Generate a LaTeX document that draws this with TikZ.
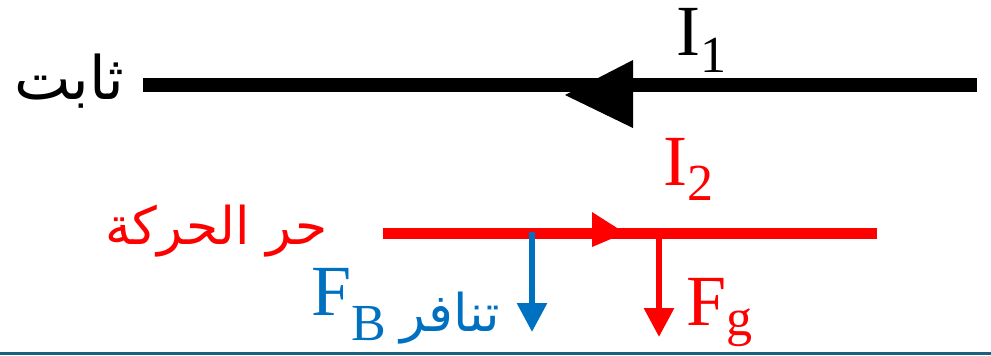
\documentclass[tikz,border=0pt]{standalone}
\usepackage{fontspec}
\setmainfont{Liberation Serif}
\newfontfamily\arabicfont[Script=Arabic]{DejaVu Sans}
\TeXXeTstate=1
\usetikzlibrary{positioning,arrows.meta}
\definecolor{wirered}{HTML}{FF0000}
\definecolor{forceblue}{HTML}{0070C0}
\definecolor{rulecol}{HTML}{1A6180}
\newcommand{\lowsub}[2]{\raisebox{-#1}{\fontsize{26}{26}\selectfont #2}}

\begin{document}
\begin{tikzpicture}[x=0.5pt,y=-0.5pt,
  lbl/.style={inner sep=0pt, font=\fontsize{36}{36}\selectfont},
  arlbl/.style={inner sep=0pt, font=\arabicfont\fontsize{26}{30}\selectfont},
  wire/.style={line width=7pt},
  force/.style={line width=3pt, -{Triangle[width=14.5pt,length=14.5pt]}}]
\useasboundingbox (0,0) rectangle (991,355);
% fixed wire, current I1 to the left
\coordinate (w1a) at (143,85);
\coordinate (w1b) at (977,85);
\draw[wire] (w1a) -- (w1b);
\fill (565,95) -- (633,60) -- (633,128) -- cycle;
\node[lbl, anchor=base west] (i1) at (676,55) {I\lowsub{8.5pt}{1}};
\node[arlbl, font=\arabicfont\fontsize{30}{34}\selectfont, anchor=east] (fixed) at (125,81) {\beginR ثابت\endR};
% free wire, current I2 to the right
\coordinate (w2a) at (383,233);
\coordinate (w2b) at (877,233);
\draw[wire, wirered, line width=5.5pt] (w2a) -- (w2b);
\fill[wirered] (625,233) -- (592,212) -- (592,247) -- cycle;
\node[lbl, text=wirered, anchor=base west] (i2) at (663,185) {I\lowsub{7.5pt}{2}};
\node[arlbl, text=wirered, anchor=east] (free) at (328,231) {\beginR حر الحركة\endR};
% forces on the free wire
\coordinate (fb0) at (532,232);
\coordinate (fb1) at (532,332);
\draw[force, forceblue] (fb0) -- (fb1);
\node[lbl, text=forceblue, anchor=base west] (fb) at (311,315) {F\lowsub{12.5pt}{B}};
\node[arlbl, text=forceblue, anchor=east] (repel) at (500,318) {\beginR تنافر\endR};
\coordinate (fg0) at (659,238);
\coordinate (fg1) at (659,337);
\draw[force, wirered] (fg0) -- (fg1);
\node[lbl, text=wirered, anchor=base west] (fg) at (686,325) {F\lowsub{5pt}{g}};
% bottom rule
\draw[rulecol, line width=1.5pt] (0,353.5) -- (991,353.5);
\end{tikzpicture}
\end{document}
